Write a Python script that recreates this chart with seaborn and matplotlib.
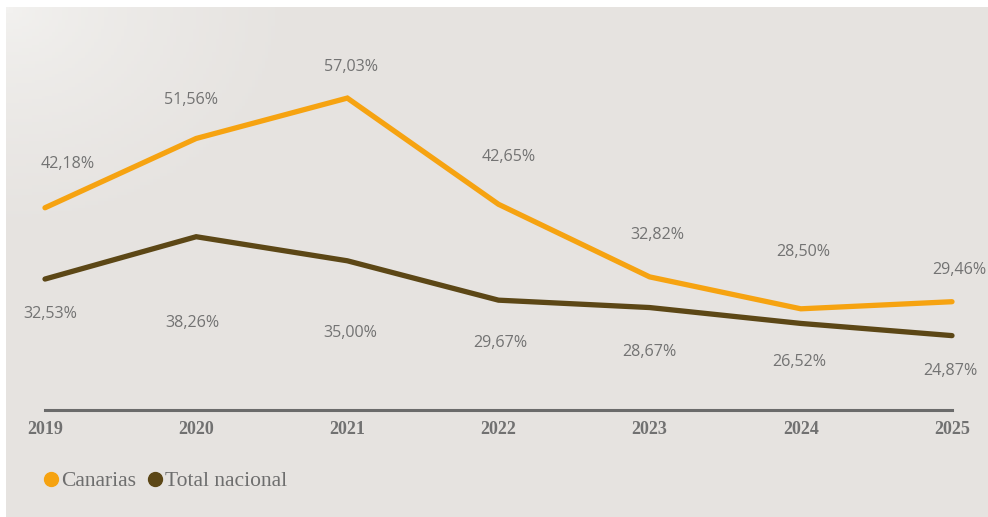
import seaborn as sns
import matplotlib.pyplot as plt
import matplotlib.colors as mcolors
from matplotlib.lines import Line2D
import pandas as pd
import numpy as np

# Datos
years = [2019, 2020, 2021, 2022, 2023, 2024, 2025]
canarias = [42.18, 51.56, 57.03, 42.65, 32.82, 28.50, 29.46]
total_nacional = [32.53, 38.26, 35.00, 29.67, 28.67, 26.52, 24.87]
series_names = ['Canarias', 'Total nacional']

df = pd.DataFrame({
    'year': years * 2,
    'valor': canarias + total_nacional,
    'serie': [series_names[0]] * len(years) + [series_names[1]] * len(years),
})

colors = {'Canarias': '#f6a311', 'Total nacional': '#5c4716'}
bg = '#e6e3e0'

sns.set_style('white')
fig = plt.figure(figsize=(9.88, 5.17), dpi=100)
fig.patch.set_facecolor('white')

# Panel de fondo con degradado suave arriba a la izquierda
W, H = 988, 517
bg_ax = fig.add_axes([6 / W, 0, 1 - 6 / W, 1 - 7 / H])
gx, gy = np.meshgrid(np.linspace(0, 1, 300), np.linspace(0, 1, 160))
d = np.clip(np.sqrt((gx / 0.3) ** 2 + (gy / 0.45) ** 2), 0, 1) ** 0.7
c0 = np.array(mcolors.to_rgb('#f3f2f0'))
c1 = np.array(mcolors.to_rgb(bg))
img = c0[None, None, :] * (1 - d[..., None]) + c1[None, None, :] * d[..., None]
bg_ax.imshow(img, aspect='auto', extent=[0, 1, 1, 0])
bg_ax.set_axis_off()

# Ejes de datos
ax = fig.add_axes([45 / W, 1 - 410 / H, (952 - 45) / W, (410 - 20) / H])
ax.patch.set_alpha(0)
sns.lineplot(data=df, x='year', y='valor', hue='serie', palette=colors,
             linewidth=3.8, ax=ax, legend=False, clip_on=False)
for line in ax.lines:
    line.set_solid_capstyle('round')
    line.set_solid_joinstyle('miter')

ax.set_xlim(years[0], years[-1])
ax.set_ylim(14.8, 67.6)
ax.set_xticks(years)
ax.set_xticklabels([str(y) for y in years], family='Liberation Serif',
                   fontweight='bold', fontsize=13, color='#717171')
ax.tick_params(axis='x', length=0, pad=8)
ax.set_yticks([])
ax.set_xlabel('')
ax.set_ylabel('')
for s in ['top', 'right', 'left']:
    ax.spines[s].set_visible(False)
ax.spines['bottom'].set_color('#6b6b6b')
ax.spines['bottom'].set_linewidth(2.2)

# Etiquetas de valor (desplazamientos en pixeles)
off_can = [(23, 44), (-5, 38), (4, 31), (10, 47), (8, 42), (2, 57), (7, 32)]
off_tot = [(5, -35), (-4, -86), (3, -72), (2, -43), (0, -44), (-2, -39), (-2, -35)]
fmt = lambda v: f'{v:.2f}'.replace('.', ',') + '%'
for vals, offs in [(canarias, off_can), (total_nacional, off_tot)]:
    for yr, v, (dx, dy) in zip(years, vals, offs):
        ax.annotate(fmt(v), (yr, v), xytext=(dx, dy), textcoords='offset pixels',
                    ha='center', va='center', fontsize=11.6, color='#737373',
                    family='Open Sans', annotation_clip=False)

# Leyenda
handles = [Line2D([], [], marker='o', linestyle='', markersize=10,
                  markerfacecolor=colors[n], markeredgecolor=colors[n]) for n in series_names]
fig.legend(handles, series_names, loc='center left', bbox_to_anchor=(43 / W, 1 - 481 / H),
           frameon=False, handletextpad=0.1, columnspacing=0.5, ncol=2,
           prop={'family': 'Liberation Serif', 'size': 15.5}, labelcolor='#6e6e6e',
           handlelength=0.75, borderaxespad=0, borderpad=0)

fig.savefig('out.png', dpi=100, facecolor=fig.get_facecolor())
